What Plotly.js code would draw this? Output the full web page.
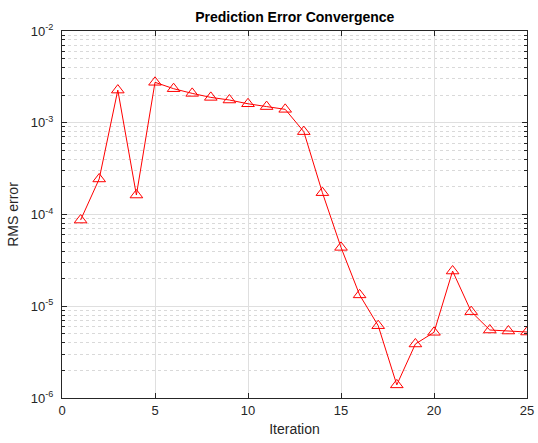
<!DOCTYPE html>
<html>
<head>
<meta charset="utf-8">
<script src="https://cdn.plot.ly/plotly-3.0.1.min.js"></script>
<style>html,body{margin:0;padding:0;background:#fff;}#chart{width:538px;height:443px;}</style>
</head>
<body>
<div id="chart"></div>
<script>
const iterations = [1,2,3,4,5,6,7,8,9,10,11,12,13,14,15,16,17,18,19,20,21,22,23,24,25];
const rmsError = [8.7e-5,2.44e-4,2.27e-3,1.63e-4,2.76e-3,2.35e-3,2.09e-3,1.89e-3,1.77e-3,1.61e-3,1.50e-3,1.40e-3,8.0e-4,1.73e-4,4.38e-5,1.33e-5,6.14e-6,1.39e-6,3.88e-6,5.20e-6,2.42e-5,8.73e-6,5.51e-6,5.37e-6,5.24e-6];
const xTicks = [0,5,10,15,20,25];
const yTicks = [1e-6,1e-5,1e-4,1e-3,1e-2];
const yTickText = ['10<sup>-6</sup>','10<sup>-5</sup>','10<sup>-4</sup>','10<sup>-3</sup>','10<sup>-2</sup>'];

const axisColor = '#262626';
const fontFam = 'Liberation Sans, Arial, sans-serif';

Plotly.newPlot('chart', [{
  x: iterations,
  y: rmsError,
  type: 'scatter',
  mode: 'lines+markers',
  line: {color: '#ff0000', width: 1},
  marker: {symbol: 'triangle-up-open', size: 11, color: '#ff0000', line: {width: 1, color: '#ff0000'}}
}], {
  width: 538, height: 443,
  margin: {l: 62, r: 11, t: 31, b: 45},
  paper_bgcolor: '#ffffff', plot_bgcolor: '#ffffff',
  showlegend: false,
  title: {text: '<b>Prediction Error Convergence</b>', x: 0.548, xanchor: 'center', y: 0.962, yanchor: 'middle', font: {family: fontFam, size: 14, color: '#000'}},
  xaxis: {
    range: [0, 25], tickvals: xTicks, ticktext: xTicks.map(String),
    showline: true, linecolor: axisColor, linewidth: 1, mirror: 'ticks',
    ticks: 'inside', ticklen: 5, tickcolor: axisColor,
    showgrid: true, gridcolor: '#dfdfdf', gridwidth: 1, zeroline: false,
    tickfont: {family: fontFam, size: 13, color: axisColor},
    title: {text: 'Iteration', font: {family: fontFam, size: 14, color: axisColor}, standoff: 7}
  },
  yaxis: {
    type: 'log', range: [-6, -2], tickvals: yTicks, ticktext: yTickText,
    showline: true, linecolor: axisColor, linewidth: 1, mirror: 'ticks',
    ticks: 'inside', ticklen: 5, tickcolor: axisColor, ticklabelstandoff: 5,
    showgrid: true, gridcolor: '#dfdfdf', gridwidth: 1, zeroline: false,
    minor: {showgrid: true, gridcolor: '#d9d9d9', griddash: 'dot', ticks: 'inside', ticklen: 3, tickcolor: axisColor, dtick: 'D1'},
    tickfont: {family: fontFam, size: 13, color: axisColor},
    title: {text: 'RMS error', font: {family: fontFam, size: 14, color: axisColor}, standoff: 8}
  }
}, {staticPlot: true});
</script>
</body>
</html>
